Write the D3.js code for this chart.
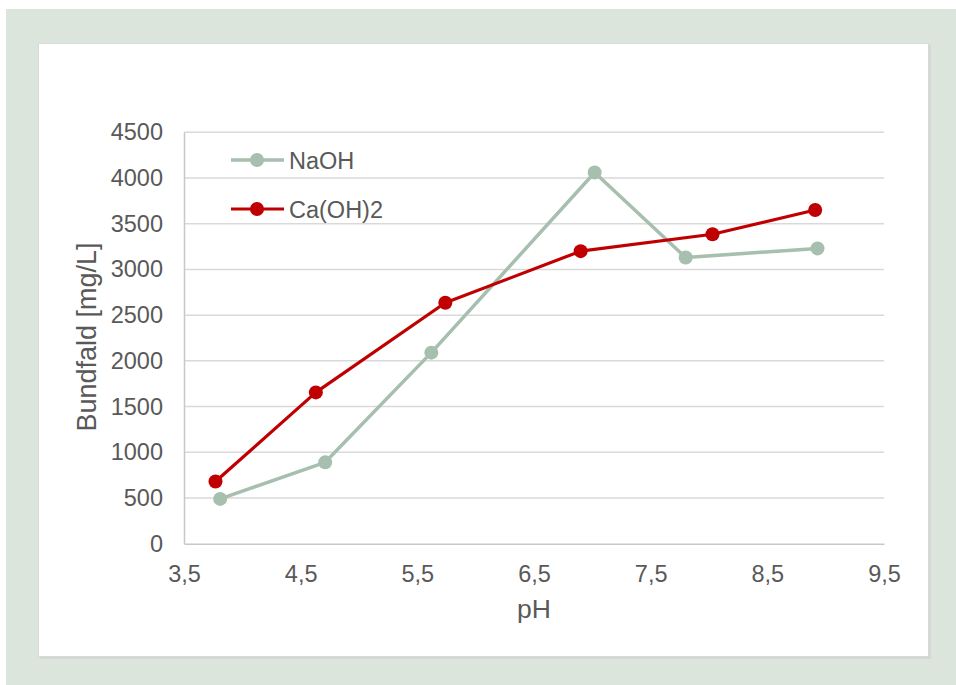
<!DOCTYPE html>
<html>
<head>
<meta charset="utf-8">
<script src="https://cdn.jsdelivr.net/npm/d3@7"></script>
<style>
  html, body { margin: 0; padding: 0; background: #ffffff; }
  svg { display: block; }
  text { font-family: "Liberation Sans", Arial, sans-serif; fill: #595959; }
</style>
</head>
<body>
<svg id="chart" width="956" height="685"></svg>
<script>
// pH values and sediment amounts (mg/L) for each neutralising agent
const naohPH = [3.81, 4.71, 5.62, 7.02, 7.80, 8.93];
const naohValues = [490, 890, 2090, 4060, 3130, 3230];
const caPH = [3.77, 4.63, 5.74, 6.90, 8.03, 8.91];
const caValues = [680, 1655, 2635, 3200, 3385, 3650];

const seriesNames = ["NaOH", "Ca(OH)2"];
const seriesColors = ["#a6bfae", "#c00000"];
const xTicks = [3.5, 4.5, 5.5, 6.5, 7.5, 8.5, 9.5];
const yTicks = [0, 500, 1000, 1500, 2000, 2500, 3000, 3500, 4000, 4500];
const xTitle = "pH";
const yTitle = "Bundfald [mg/L]";

const series = [
  { name: seriesNames[0], color: seriesColors[0], width: 3.5, r: 7,
    points: naohPH.map((x, i) => ({ x, y: naohValues[i] })) },
  { name: seriesNames[1], color: seriesColors[1], width: 3.2, r: 7,
    points: caPH.map((x, i) => ({ x, y: caValues[i] })) }
];

const svg = d3.select("#chart");

// outer frame and white card
svg.append("rect").attr("x", 6).attr("y", 9).attr("width", 950).attr("height", 676)
  .attr("fill", "#dbe5dc");
svg.append("rect").attr("x", 40).attr("y", 45).attr("width", 891).attr("height", 614)
  .attr("fill", "#d4d8d5");
svg.append("rect").attr("x", 38.5).attr("y", 43.5).attr("width", 890).attr("height", 613)
  .attr("fill", "#ffffff").attr("stroke", "#d9d9d9").attr("stroke-width", 1);

const plot = { left: 184, right: 884, top: 132.3, bottom: 543.7 };

const x = d3.scaleLinear().domain([3.5, 9.5]).range([plot.left, plot.right]);
const y = d3.scaleLinear().domain([0, 4500]).range([plot.bottom, plot.top]);

const fmt = d => d3.format(".1f")(d).replace(".", ",");

// horizontal gridlines
svg.append("g")
  .selectAll("line")
  .data(yTicks.filter(d => d > 0))
  .join("line")
  .attr("x1", plot.left).attr("x2", plot.right)
  .attr("y1", d => y(d)).attr("y2", d => y(d))
  .attr("stroke", "#d9d9d9").attr("stroke-width", 1.5);

// axes
const yAxis = svg.append("g")
  .attr("transform", `translate(${plot.left},0)`)
  .call(d3.axisLeft(y).tickValues(yTicks).tickSize(0).tickPadding(21).tickFormat(d3.format("d")));
const xAxis = svg.append("g")
  .attr("transform", `translate(0,${plot.bottom})`)
  .call(d3.axisBottom(x).tickValues(xTicks).tickSize(0).tickPadding(22).tickFormat(fmt));

[xAxis, yAxis].forEach(g => {
  g.select(".domain").attr("stroke", "#c8c8c8").attr("stroke-width", 1.5);
  g.selectAll("text")
    .style("font-family", "'Liberation Sans', Arial, sans-serif")
    .style("font-size", "23.5px")
    .attr("fill", "#595959");
});

// axis titles
svg.append("text")
  .attr("x", (plot.left + plot.right) / 2).attr("y", 618)
  .attr("text-anchor", "middle")
  .style("font-size", "26.5px")
  .text(xTitle);
svg.append("text")
  .attr("transform", `translate(96,${(plot.top + plot.bottom) / 2 - 1}) rotate(-90)`)
  .attr("text-anchor", "middle")
  .style("font-size", "27px")
  .text(yTitle);

// series lines and markers
const line = d3.line().x(d => x(d.x)).y(d => y(d.y));
series.forEach(s => {
  const g = svg.append("g");
  g.append("path")
    .datum(s.points)
    .attr("d", line)
    .attr("fill", "none")
    .attr("stroke", s.color)
    .attr("stroke-width", s.width)
    .attr("stroke-linejoin", "round");
  g.selectAll("circle")
    .data(s.points)
    .join("circle")
    .attr("cx", d => x(d.x)).attr("cy", d => y(d.y))
    .attr("r", s.r)
    .attr("fill", s.color);
});

// legend
const legend = svg.append("g").attr("transform", "translate(231,160)");
series.forEach((s, i) => {
  const row = legend.append("g").attr("transform", `translate(0,${i * 49})`);
  row.append("line").attr("x1", 0).attr("x2", 53).attr("y1", 0).attr("y2", 0)
    .attr("stroke", s.color).attr("stroke-width", s.width);
  row.append("circle").attr("cx", 26).attr("cy", 0).attr("r", s.r).attr("fill", s.color);
  row.append("text").attr("x", 58).attr("y", 8.5)
    .style("font-size", "23.5px")
    .text(s.name);
});
</script>
</body>
</html>
